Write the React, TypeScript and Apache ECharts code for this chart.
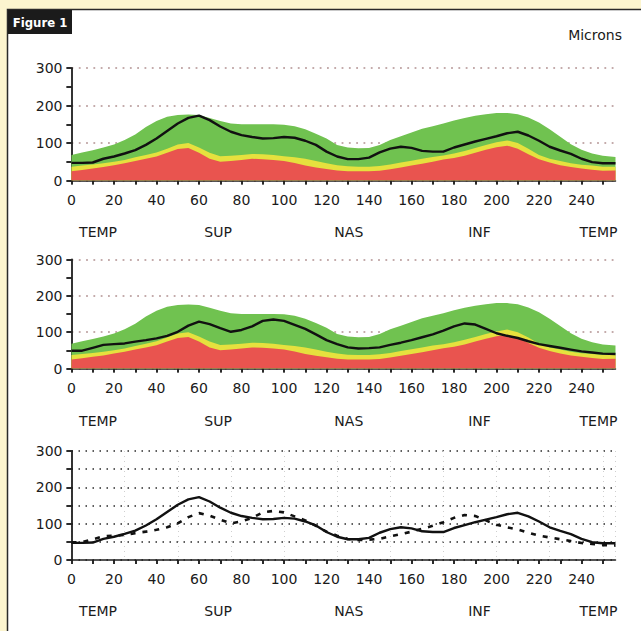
import React, { useEffect, useRef } from "react";
import * as echarts from "echarts";

// Angular position along the TSNIT scan (0-256)
const ANGLES = [
  0, 5, 10, 15, 20, 25, 30, 35, 40, 45,
  50, 55, 60, 65, 70, 75, 80, 85, 90, 95,
  100, 105, 110, 115, 120, 125, 130, 135, 140, 145,
  150, 155, 160, 165, 170, 175, 180, 185, 190, 195,
  200, 205, 210, 215, 220, 225, 230, 235, 240, 245,
  250, 256,
];

// Normative band upper limits (microns)
const NORM_UPPER = [
  68, 75, 81, 88, 96, 108, 123, 143, 159, 170,
  175, 176, 175, 167, 159, 152, 150, 150, 150, 150,
  149, 145, 137, 125, 112, 95, 88, 86, 87, 95,
  108, 118, 128, 138, 145, 152, 160, 167, 173, 177,
  180, 180, 177, 168, 155, 137, 117, 97, 82, 72,
  66, 63,
];
const NORM_MID = [
  37, 40, 43, 46, 50, 55, 62, 68, 75, 85,
  96, 100, 88, 74, 65, 66, 68, 71, 70, 68,
  65, 62, 58, 52, 46, 41, 38, 37, 37, 39,
  43, 48, 53, 58, 63, 67, 72, 79, 87, 95,
  102, 107, 100, 85, 68, 58, 52, 46, 42, 40,
  37, 37,
];
const NORM_LOW = [
  25, 28, 32, 36, 41, 46, 52, 58, 64, 74,
  84, 87, 74, 58, 50, 52, 55, 58, 57, 55,
  52, 47, 40, 35, 31, 27, 25, 25, 25, 26,
  30, 35, 40, 45, 50, 56, 60, 66, 74, 82,
  89, 93, 85, 70, 57, 48, 41, 36, 32, 29,
  26, 27,
];

// Measured RNFL thickness, first eye (top chart, solid line below)
const EYE_1 = [
  47, 47, 48, 58, 64, 72, 81, 95, 112, 132,
  152, 167, 173, 161, 144, 130, 121, 116, 112, 113,
  116, 114, 106, 95, 77, 64, 57, 57, 61, 75,
  85, 90, 87, 79, 77, 77, 88, 96, 104, 111,
  118, 126, 130, 120, 106, 90, 80, 71, 58, 49,
  46, 46,
];
// Measured RNFL thickness, second eye (middle chart, dashed line below)
const EYE_2 = [
  49, 49, 57, 65, 67, 69, 74, 78, 83, 90,
  101, 118, 129, 122, 111, 101, 106, 116, 131, 135,
  131, 120, 109, 94, 78, 67, 58, 55, 56, 58,
  65, 71, 78, 86, 94, 104, 116, 124, 121, 109,
  97, 90, 84, 75, 67, 62, 57, 52, 47, 44,
  41, 40,
];

const X_TICKS = [0, 10, 20, 30, 40, 50, 60, 70, 80, 90, 100, 110, 120, 130, 140, 150, 160, 170, 180, 190, 200, 210, 220, 230, 240, 250];
const X_LABELS = [0, 20, 40, 60, 80, 100, 120, 140, 160, 180, 200, 220, 240];
const Y_TICK_STEP = 50;
const Y_LABEL_STEP = 100;
const SECTORS = ["TEMP", "SUP", "NAS", "INF", "TEMP"];
const SECTOR_CENTERS = [12.5, 69, 130.5, 192, 248];

const FONT = "DejaVu Sans";
const GREEN = "#70c250";
const YELLOW = "#e6e13e";
const RED = "#e9544f";
const AXIS = "#1e1e1e";

const LEFT = 71.5;
const WIDTH = 544;
const GRIDS = [
  { top: 68, height: 112.5, labelY: 232 },
  { top: 259.5, height: 109, labelY: 421 },
  { top: 451, height: 109, labelY: 611 },
];

const pairs = (ys: number[]) => ANGLES.map((a, i) => [a, ys[i]]);

export default function App() {
  const ref = useRef<HTMLDivElement>(null);

  useEffect(() => {
    if (!ref.current) return;
    const chart = echarts.init(ref.current, null, { renderer: "svg" });

    const xAxis: any[] = [];
    const yAxis: any[] = [];
    const series: any[] = [];

    GRIDS.forEach((g, i) => {
      const isLast = i === 2;
      xAxis.push({
        gridIndex: i,
        type: "value",
        min: 0,
        max: 256,
        axisLine: { show: true, lineStyle: { color: AXIS, width: 1.5 } },
        axisTick: { show: true, customValues: X_TICKS, length: 4, lineStyle: { color: AXIS, width: 1.5 } },
        axisLabel: { customValues: X_LABELS, margin: 12, fontFamily: FONT, fontSize: 14, color: "#1a1a1a" },
        splitLine: { show: false },
      });
      xAxis.push({
        gridIndex: i,
        type: "value",
        min: 0,
        max: 256,
        axisLine: { show: false },
        axisTick: { show: true, inside: true, customValues: X_TICKS, length: 4, lineStyle: { color: AXIS, width: 1.5 } },
        axisLabel: { show: false },
        splitLine: { show: false },
      });
      // main y axis with labels and outer ticks
      yAxis.push({
        gridIndex: i,
        type: "value",
        min: 0,
        max: 300,
        interval: Y_TICK_STEP,
        axisLine: { show: true, lineStyle: { color: AXIS, width: 1.8 } },
        axisTick: { show: true, length: 5, lineStyle: { color: AXIS, width: 1.5 } },
        axisLabel: {
          margin: 9,
          fontFamily: FONT,
          fontSize: 14,
          color: "#1a1a1a",
          formatter: (v: number) => (v % Y_LABEL_STEP === 0 ? String(v) : ""),
        },
        splitLine: { show: false },
      });
      // inner ticks
      yAxis.push({
        gridIndex: i,
        type: "value",
        min: 0,
        max: 300,
        interval: Y_TICK_STEP,
        axisLine: { show: false },
        axisTick: { show: true, inside: true, length: 5, lineStyle: { color: AXIS, width: 1.5 } },
        axisLabel: { show: false },
        splitLine: { show: false },
      });
      // dotted grid
      yAxis.push({
        gridIndex: i,
        type: "value",
        min: 0,
        max: 300,
        interval: isLast ? Y_TICK_STEP : Y_LABEL_STEP,
        axisLine: { show: false },
        axisTick: { show: false },
        axisLabel: { show: false },
        splitLine: {
          show: true,
          lineStyle: isLast
            ? { color: "#2a2a2a", width: 1.5, type: [1.5, 5.5] }
            : { color: "#c4abab", width: 1.8, type: [1.8, 5.5] },
        },
      });
    });
    // vertical faint grid for the comparison chart
    xAxis.push({
      gridIndex: 2,
      type: "value",
      min: 0,
      max: 256,
      interval: 25,
      axisLine: { show: false },
      axisTick: { show: false },
      axisLabel: { show: false },
      splitLine: { show: true, lineStyle: { color: "#cfcfcf", width: 1, type: [1, 4] } },
    });

    const area = (gi: number, data: number[], color: string, name: string) => ({
      name,
      type: "line",
      xAxisIndex: gi * 2,
      yAxisIndex: gi * 3,
      data: pairs(data),
      showSymbol: false,
      symbol: "none",
      silent: true,
      lineStyle: { width: 0 },
      areaStyle: { color, opacity: 1 },
      z: 2,
    });
    const line = (gi: number, data: number[], name: string, dashed = false) => ({
      name,
      type: "line",
      xAxisIndex: gi * 2,
      yAxisIndex: gi * 3,
      data: pairs(data),
      showSymbol: false,
      symbol: "none",
      silent: true,
      lineStyle: dashed
        ? { color: "#111", width: 2.6, type: [5, 7] }
        : { color: "#111", width: 2.4 },
      z: 3,
    });

    [0, 1].forEach((gi) => {
      series.push(area(gi, NORM_UPPER, GREEN, "Upper"));
      series.push(area(gi, NORM_MID, YELLOW, "Mid"));
      series.push(area(gi, NORM_LOW, RED, "Low"));
    });
    series.push(line(0, EYE_1, "Eye 1"));
    series.push(line(1, EYE_2, "Eye 2"));
    series.push(line(2, EYE_1, "Eye 1"));
    series.push(line(2, EYE_2, "Eye 2", true));

    const graphics: any[] = [
      {
        type: "rect",
        z: -10,
        silent: true,
        shape: { x: 7.5, y: 9.5, width: 660, height: 640 },
        style: { fill: "#ffffff", stroke: "#2a2a2a", lineWidth: 1.5 },
      },
      {
        type: "rect",
        z: 50,
        silent: true,
        shape: { x: 8, y: 10, width: 64, height: 24 },
        style: { fill: "#1b1b1b" },
      },
      {
        type: "text",
        z: 51,
        silent: true,
        x: 40,
        y: 22.5,
        style: {
          text: "Figure 1",
          fill: "#ffffff",
          fontFamily: "'DejaVu Sans Condensed', Roboto, sans-serif",
          fontWeight: "bold",
          fontSize: 13,
          align: "center",
          verticalAlign: "middle",
        },
      },
      {
        type: "text",
        z: 51,
        silent: true,
        x: 622,
        y: 35,
        style: {
          text: "Microns",
          fill: "#1a1a1a",
          fontFamily: FONT,
          fontSize: 14,
          align: "right",
          verticalAlign: "middle",
        },
      },
    ];
    GRIDS.forEach((g) => {
      SECTORS.forEach((s, k) => {
        graphics.push({
          type: "text",
          z: 51,
          silent: true,
          x: LEFT + (SECTOR_CENTERS[k] * WIDTH) / 256,
          y: g.labelY,
          style: {
            text: s,
            fill: "#1a1a1a",
            fontFamily: FONT,
            fontSize: 14,
            align: "center",
            verticalAlign: "middle",
          },
        });
      });
    });

    chart.setOption({
      animation: false,
      backgroundColor: "#fcf5cf",
      grid: GRIDS.map((g) => ({ left: LEFT, width: WIDTH, top: g.top, height: g.height, containLabel: false })),
      xAxis,
      yAxis,
      series,
      graphic: graphics,
    });

    return () => chart.dispose();
  }, []);

  return (
    <div
      ref={ref}
      style={{ position: "absolute", left: 0, top: 0, width: 641, height: 631 }}
    />
  );
}
